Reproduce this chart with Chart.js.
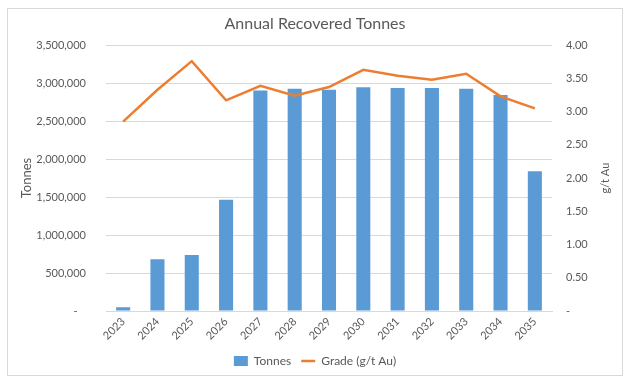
<!DOCTYPE html>
<html>
<head>
<meta charset="utf-8">
<script src="https://cdn.jsdelivr.net/npm/chart.js@4"></script>
<style>
  html, body { margin: 0; padding: 0; background: #ffffff; }
  #wrap { width: 630px; height: 381px; position: relative; }
</style>
</head>
<body>
<div id="wrap"><canvas id="c" width="630" height="381"></canvas></div>
<script>
const years = ['2023','2024','2025','2026','2027','2028','2029','2030','2031','2032','2033','2034','2035'];
const tonnes = [50000, 680000, 736000, 1464000, 2905000, 2928000, 2914000, 2945000, 2937000, 2937000, 2928000, 2844000, 1841000];
const grade = [2.85, 3.33, 3.76, 3.17, 3.39, 3.24, 3.37, 3.63, 3.54, 3.48, 3.57, 3.23, 3.05];
const titleText = 'Annual Recovered Tonnes';
const leftAxisTitle = 'Tonnes';
const rightAxisTitle = 'g/t Au';

const FONT = 'Lato, "Open Sans", "Liberation Sans", sans-serif';
const GREY = '#595959';

const framePlugin = {
  id: 'frame',
  beforeDraw(chart) {
    const ctx = chart.ctx;
    ctx.save();
    ctx.fillStyle = '#ffffff';
    ctx.fillRect(0, 0, chart.width, chart.height);
    ctx.strokeStyle = '#d9d9d9';
    ctx.lineWidth = 1;
    ctx.strokeRect(7.5, 8.5, 615, 367);
    ctx.restore();
  },
  afterDraw(chart) {
    // right axis title, reading bottom-to-top like the reference
    const ctx = chart.ctx;
    const ca = chart.chartArea;
    ctx.save();
    ctx.translate(605, (ca.top + ca.bottom) / 2);
    ctx.rotate(-Math.PI / 2);
    ctx.fillStyle = GREY;
    ctx.font = '11px ' + FONT;
    ctx.textAlign = 'center';
    ctx.textBaseline = 'middle';
    ctx.fillText(rightAxisTitle, 0, 0);
    ctx.restore();
  }
};

new Chart(document.getElementById('c'), {
  data: {
    labels: years,
    datasets: [
      {
        type: 'bar',
        label: 'Tonnes',
        data: tonnes,
        backgroundColor: '#5b9bd5',
        borderWidth: 0,
        yAxisID: 'y',
        order: 2,
        barPercentage: 0.41,
        categoryPercentage: 1.0,
        pointStyle: 'rect'
      },
      {
        type: 'line',
        label: 'Grade (g/t Au)',
        data: grade,
        borderColor: '#ed7d31',
        backgroundColor: '#ed7d31',
        borderWidth: 2.5,
        pointRadius: 0,
        tension: 0,
        yAxisID: 'y1',
        order: 1,
        pointStyle: 'line'
      }
    ]
  },
  options: {
    responsive: false,
    animation: false,
    devicePixelRatio: 1,
    layout: { padding: { top: 0, right: 0, bottom: 4, left: 0 } },
    plugins: {
      title: {
        display: true,
        text: titleText,
        color: GREY,
        font: { family: FONT, size: 16, weight: 'normal' },
        padding: { top: 14, bottom: 12 }
      },
      legend: {
        display: true,
        position: 'bottom',
        labels: {
          color: GREY,
          font: { family: FONT, size: 12 },
          usePointStyle: true,
          pointStyleWidth: 14,
          boxHeight: 10,
          padding: 10,
          sort: (a, b) => a.datasetIndex - b.datasetIndex
        }
      },
      tooltip: { enabled: false }
    },
    scales: {
      x: {
        grid: { display: false, drawTicks: false },
        border: { display: true, color: '#d9d9d9' },
        ticks: {
          color: GREY,
          font: { family: FONT, size: 11 },
          maxRotation: 45,
          minRotation: 45,
          padding: 4
        },
        afterFit(s) { s.height = 34; }
      },
      y: {
        position: 'left',
        min: 0,
        max: 3500000,
        ticks: {
          stepSize: 500000,
          color: GREY,
          font: { family: FONT, size: 11 },
          padding: 20,
          callback: (v) => v === 0 ? '-   ' : v.toLocaleString('en-US')
        },
        grid: { color: '#d9d9d9', drawTicks: false },
        border: { display: false },
        title: {
          display: true,
          text: leftAxisTitle,
          color: GREY,
          font: { family: FONT, size: 13 },
          padding: { top: 19, bottom: 4 }
        },
        afterFit(s) { s.width = 106; }
      },
      y1: {
        position: 'right',
        min: 0,
        max: 4,
        ticks: {
          stepSize: 0.5,
          color: GREY,
          font: { family: FONT, size: 11 },
          padding: 14,
          callback: (v) => v === 0 ? '-' : Number(v).toFixed(2)
        },
        grid: { display: false, drawTicks: false },
        border: { display: false },
        afterFit(s) { s.width = 78; }
      }
    }
  },
  plugins: [framePlugin]
});
</script>
</body>
</html>
